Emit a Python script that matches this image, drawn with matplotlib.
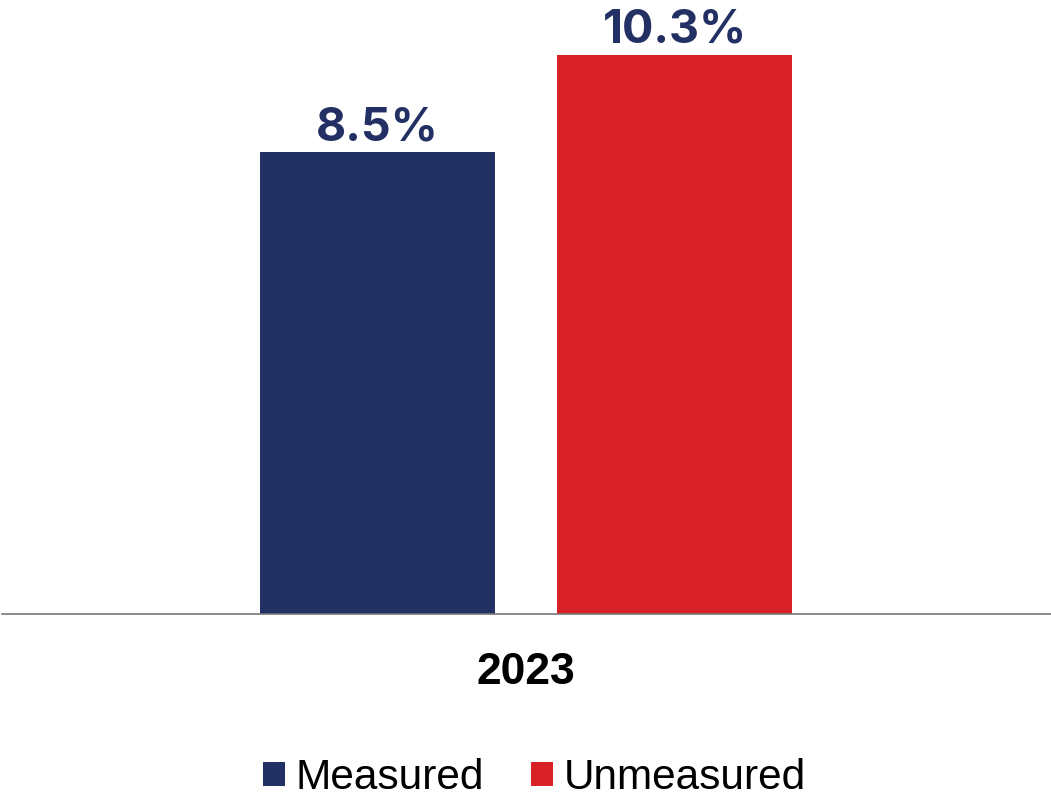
import matplotlib.pyplot as plt
from matplotlib.patches import Patch

years = ["2023"]
series = ["Measured", "Unmeasured"]
values = [8.5, 10.3]
colors = ["#223064", "#D92128"]

W, H, DPI = 1051, 798, 100
fig = plt.figure(figsize=(W / DPI, H / DPI), dpi=DPI)
base_y = 614
ax = fig.add_axes([2 / W, (H - base_y) / H, 1 - 2 / W, base_y / H])

offsets = [-0.1415, 0.1415]
width = 235 / W
for name, val, col, off in zip(series, values, colors, offsets):
    ax.bar(off, val, width=width, color=col, label=name)
    ax.annotate(f"{val:.1f}%", (off, val), xytext=(0, 8.6), textcoords="offset points",
                ha="center", va="baseline", fontsize=33.5, fontweight="bold",
                family=["Inter", "DejaVu Sans"], color=colors[0])

ax.set_xlim(-0.5 + 0.5 / W, 0.5)
ax.set_ylim(0, base_y / 54.3)
ax.set_xticks([0], years)
ax.tick_params(axis="x", length=0, pad=27)
for lbl in ax.get_xticklabels():
    lbl.set_fontsize(32)
    lbl.set_fontweight("bold")
    lbl.set_family("Liberation Sans")
ax.set_yticks([])
for s in ["top", "left", "right"]:
    ax.spines[s].set_visible(False)
ax.spines["bottom"].set_color("#777777")
ax.spines["bottom"].set_linewidth(1.2)

handles = [Patch(facecolor=c, edgecolor="none") for c in colors]
fig.legend(handles, series, loc="center", bbox_to_anchor=(534.5 / W, 20 / H), ncol=2,
           frameon=False, prop={"family": "Liberation Sans", "size": 30.5},
           handlelength=0.52, handleheight=0.52, handletextpad=0.26,
           columnspacing=1.1, borderpad=0, borderaxespad=0)

fig.savefig("out.png", dpi=DPI)
